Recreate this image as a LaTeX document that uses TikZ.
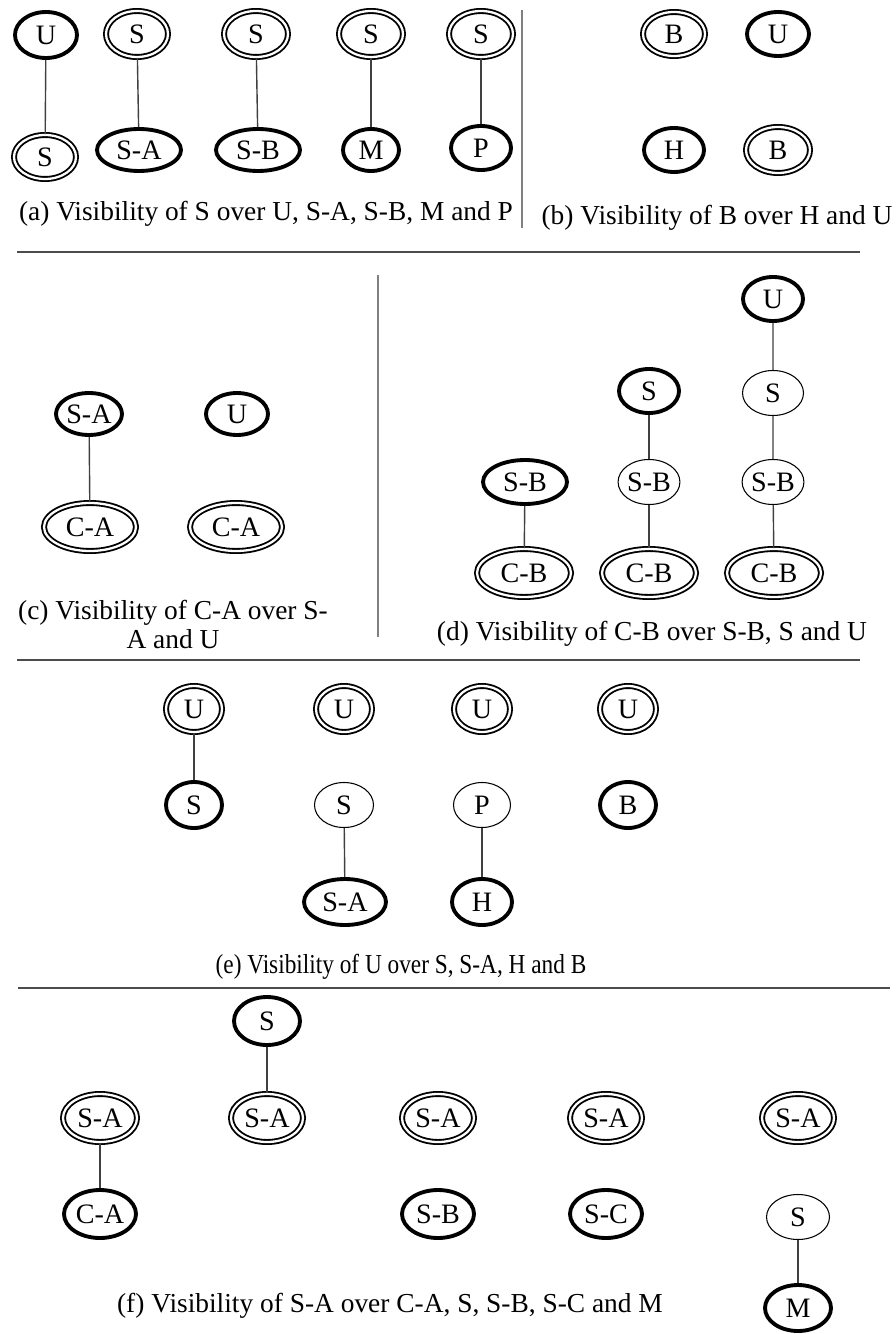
\documentclass[tikz,border=0pt]{standalone}
\usepackage{fontspec}
\setmainfont{Liberation Serif}
\usetikzlibrary{shapes.geometric}

\newcommand{\ndfont}{\fontsize{16}{18}\selectfont}
\newcommand{\cpfont}{\fontsize{15.6}{16.5}\selectfont}

\tikzset{
  strong/.style 2 args={ellipse, draw, line width=2.2pt, inner sep=0pt, font=\ndfont,
    minimum width={(2*#1-4)*0.02cm}, minimum height={(2*#2-4)*0.02cm}},
  dbl/.style 2 args={ellipse, draw, double, line width=1.05pt, double distance=1.3pt, inner sep=0pt, font=\ndfont,
    minimum width={(2*#1-6)*0.02cm}, minimum height={(2*#2-6)*0.02cm}},
  faint/.style 2 args={ellipse, draw, line width=0.6pt, inner sep=0pt, font=\ndfont,
    minimum width={(2*#1-1)*0.02cm}, minimum height={(2*#2-1)*0.02cm}},
  link/.style={draw=black!75, line width=0.8pt},
  hsep/.style={draw=black!70, line width=1.2pt},
  vsep/.style={draw=black!50, line width=1.2pt},
  captxt/.style={font=\cpfont, inner sep=0pt}
}

\begin{document}
\begin{tikzpicture}[x=0.02cm, y=-0.02cm]
	\useasboundingbox (0,0) rectangle (895,1334);

	% (a)
	\node[strong={33}{25}] (aU) at (46,35) {U};
	\node[dbl={34}{25}] (aS1) at (45,157) {S};
	\node[dbl={34}{26}] (aS2) at (137,34) {S};
	\node[strong={44}{23}] (aSA) at (139,150) {S-A};
	\node[dbl={35}{26}] (aS3) at (256,34) {S};
	\node[strong={44}{23}] (aSB) at (258,150) {S-B};
	\node[dbl={35}{26}] (aS4) at (371,34) {S};
	\node[strong={30}{23}] (aM) at (371,150) {M};
	\node[dbl={35}{26}] (aS5) at (481,34) {S};
	\node[strong={32}{24}] (aP) at (481,148) {P};
	\draw[link] (aU) -- (aS1);
	\draw[link] (aS2) -- (aSA);
	\draw[link] (aS3) -- (aSB);
	\draw[link] (aS4) -- (aM);
	\draw[link] (aS5) -- (aP);
	\node[captxt, anchor=base] (capa) at (266,221) {(a) Visibility of S over U, S-A, S-B, M and P};

	% (b)
	\node[dbl={34}{25}] (bB1) at (674,34) {B};
	\node[strong={33}{24}] (bU) at (778,34) {U};
	\node[strong={32}{24}] (bH) at (674,150) {H};
	\node[dbl={35}{26}] (bB2) at (778,150) {B};
	\node[captxt, anchor=base] (capb) at (717,225) {(b) Visibility of B over H and U};

	\draw[vsep] (522,10) -- (522,228);
	\draw[hsep] (17,252) -- (860,252);

	% (c)
	\node[strong={35}{23}] (cSA) at (89,414) {S-A};
	\node[dbl={49}{27}] (cCA1) at (90,527) {C-A};
	\node[strong={33}{23}] (cU) at (237,414) {U};
	\node[dbl={49}{27}] (cCA2) at (236,527) {C-A};
	\draw[link] (cSA) -- (cCA1);
	\node[captxt, align=center] (capc) at (173,624) {(c) Visibility of C-A over S-\\A and U};

	\draw[vsep] (378,275) -- (378,637);

	% (d)
	\node[strong={44}{24}] (dSB1) at (525,482) {S-B};
	\node[dbl={50}{27}] (dCB1) at (524,573) {C-B};
	\node[strong={32}{24}] (dS2) at (649,391) {S};
	\node[faint={31}{23}] (dSB2) at (649,482) {S-B};
	\node[dbl={50}{27}] (dCB2) at (649,573) {C-B};
	\node[strong={32}{24}] (dU) at (773,299) {U};
	\node[faint={31}{23}] (dS3) at (773,393) {S};
	\node[faint={31}{23}] (dSB3) at (773,482) {S-B};
	\node[dbl={50}{27}] (dCB3) at (774,573) {C-B};
	\draw[link] (dSB1) -- (dCB1);
	\draw[link] (dS2) -- (dSB2) -- (dCB2);
	\draw[link] (dU) -- (dS3) -- (dSB3) -- (dCB3);
	\node[captxt, anchor=base] (capd) at (652,640) {(d) Visibility of C-B over S-B, S and U};

	\draw[hsep] (17,660) -- (860,660);

	% (e)
	\node[dbl={31}{26}] (eU1) at (194,709) {U};
	\node[strong={30}{25}] (eS1) at (194,805) {S};
	\node[dbl={31}{26}] (eU2) at (344,709) {U};
	\node[faint={30}{23}] (eS2) at (344,805) {S};
	\node[strong={43}{25}] (eSA) at (345,902) {S-A};
	\node[dbl={31}{26}] (eU3) at (482,709) {U};
	\node[faint={29}{23}] (eP) at (482,805) {P};
	\node[strong={32}{25}] (eH) at (482,902) {H};
	\node[dbl={31}{26}] (eU4) at (628,709) {U};
	\node[strong={30}{25}] (eB) at (628,805) {B};
	\draw[link] (eU1) -- (eS1);
	\draw[link] (eS2) -- (eSA);
	\draw[link] (eP) -- (eH);
	\node[captxt, anchor=base, xscale=0.85] (cape) at (401,973) {(e) Visibility of U over S, S-A, H and B};

	\draw[hsep] (18,988) -- (890,988);

	% (f)
	\node[dbl={40}{27}] (fSA1) at (100,1118) {S-A};
	\node[strong={38}{26}] (fCA) at (100,1214) {C-A};
	\node[strong={35}{26}] (fS) at (267,1021) {S};
	\node[dbl={39}{27}] (fSA2) at (267,1118) {S-A};
	\node[dbl={39}{27}] (fSA3) at (438,1118) {S-A};
	\node[strong={38}{26}] (fSB) at (438,1214) {S-B};
	\node[dbl={39}{27}] (fSA4) at (606,1118) {S-A};
	\node[strong={38}{26}] (fSC) at (606,1214) {S-C};
	\node[dbl={39}{27}] (fSA5) at (798,1118) {S-A};
	\node[faint={32}{23}] (fS5) at (798,1217) {S};
	\node[strong={35}{25}] (fM) at (798,1308) {M};
	\draw[link] (fSA1) -- (fCA);
	\draw[link] (fS) -- (fSA2);
	\draw[link] (fS5) -- (fM);
	\node[captxt, anchor=base] (capf) at (390,1312) {(f) Visibility of S-A over C-A, S, S-B, S-C and M};
\end{tikzpicture}
\end{document}
